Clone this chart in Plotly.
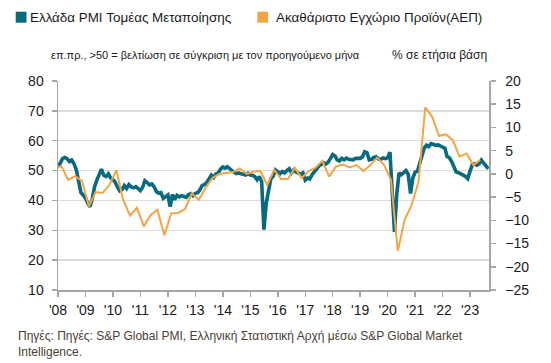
import plotly.graph_objects as go
import pandas as pd

# ---- data ----
years = list(range(2008, 2024))
year_labels = ["'%02d" % (y % 100) for y in years]

pmi = [
    51.7, 52.5, 54.0, 54.4, 54.0, 53.0, 53.5, 52.3, 50.2, 45.7, 42.6, 41.8,  # 2008
    40.8, 39.0, 37.9, 40.5, 44.6, 46.8, 48.5, 50.5, 48.4, 48.0, 48.9, 47.5,  # 2009
    47.0, 46.0, 44.5, 43.2, 43.6, 45.0, 44.0, 45.3, 44.5, 44.2, 44.6, 43.8,  # 2010
    43.3, 44.5, 46.6, 46.0, 45.2, 45.5, 44.6, 43.0, 42.4, 42.6, 40.7, 41.2,  # 2011
    41.8, 37.9, 42.0, 40.3, 41.7, 41.2, 41.6, 41.3, 41.0, 41.9, 42.3, 41.6,  # 2012
    42.4, 42.6, 43.5, 45.0, 45.3, 46.0, 47.5, 48.5, 47.7, 48.9, 49.2, 50.5,  # 2013
    51.2, 50.8, 51.3, 50.6, 50.2, 49.4, 49.0, 49.2, 48.9, 48.8, 48.5, 49.1,  # 2014
    48.5, 48.4, 48.0, 46.9, 48.0, 46.3, 30.2, 39.1, 43.3, 47.3, 48.1, 50.2,  # 2015
    49.6, 49.0, 49.7, 49.2, 50.0, 50.6, 49.2, 50.2, 49.5, 49.3, 48.8, 49.2,  # 2016
    46.8, 47.5, 47.2, 48.6, 49.8, 50.6, 51.5, 52.0, 52.6, 52.2, 52.8, 54.0,  # 2017
    55.4, 54.9, 53.6, 53.2, 54.1, 53.6, 54.2, 53.8, 53.8, 53.6, 54.1, 54.0,  # 2018
    54.1, 54.6, 56.3, 56.0, 53.6, 53.8, 54.4, 54.6, 53.9, 53.8, 54.2, 54.0,  # 2019
    54.3, 56.2, 42.5, 29.5, 42.0, 49.2, 48.6, 49.4, 50.0, 48.7, 42.3, 47.5,  # 2020
    49.5, 49.8, 52.0, 55.0, 57.5, 58.5, 58.0, 59.0, 58.6, 58.5, 58.6, 58.2,  # 2021
    57.8, 57.5, 54.7, 54.3, 53.0, 51.5, 49.5, 49.3, 49.0, 48.5, 48.0, 47.3,  # 2022
    49.8, 52.0, 52.3, 51.8, 52.2, 53.5, 52.5, 51.5, 50.6,                    # 2023
]
pmi_start = "2008-01-01"

gdp_quarters = ["2007Q4"] + ["%dQ%d" % (y, q) for y in range(2008, 2024) for q in range(1, 5)][:62]
gdp = [
    1.0,
    1.7, -1.3, -0.5, -1.5,      # 2008
    -7.0, -3.9, -4.1, -2.4,     # 2009
    0.8, -5.5, -9.0, -7.3,      # 2010
    -11.3, -8.9, -7.7, -13.2,   # 2011
    -8.5, -8.4, -7.6, -4.2,     # 2012
    -5.6, -3.0, -0.9, 0.0,      # 2013
    0.2, 0.4, 1.2, 0.0,         # 2014
    0.5, 0.6, -2.4, 0.9,        # 2015
    -1.1, -1.1, 1.3, -0.9,      # 2016
    0.6, 1.3, 2.8, -0.6,        # 2017
    1.6, 2.0, 1.4, 1.9,         # 2018
    0.6, 1.9, 3.5, 1.9,         # 2019
    -1.3, -16.6, -9.9, -6.7,    # 2020
    -1.7, 14.3, 12.3, 8.2,      # 2021
    8.5, 7.3, 3.7, 4.4,         # 2022
    1.9, 3.0,                   # 2023
]

legend_pmi = "Ελλάδα PMI Τομέας Μεταποίησης"
legend_gdp = "Ακαθάριστο Εγχώριο Προϊόν(ΑΕΠ)"
left_title = "επ.πρ., >50 = βελτίωση σε σύγκριση με τον προηγούμενο μήνα"
right_title = "% σε ετήσια βάση"
source = ("Πηγές: Πηγές: S&P Global PMI, Ελληνική Στατιστική Αρχή μέσω S&P Global Market<br>"
          "Intelligence.")

# ---- positions ----
pmi_x = pd.date_range(pmi_start, periods=len(pmi), freq="MS")


def q_mid(label):
    y, q = int(label[:4]), int(label[-1])
    return pd.Timestamp(year=y, month=3 * (q - 1) + 2, day=15)


gdp_x = [q_mid(q) for q in gdp_quarters]

TEAL = "#08697f"
ORANGE = "#f3a545"
FONT = "Liberation Sans, Arial, sans-serif"
AXIS = "#a6a6a6"
TXT = "#1a1a1a"

L, R, T, B = 58, 62, 81, 73
PW, PH = 551 - L - R, 363 - T - B


def px(x):
    return (x - L) / PW


def py(y):
    return (363 - B - y) / PH


fig = go.Figure()
fig.add_trace(go.Scatter(x=pmi_x, y=pmi, mode="lines", name=legend_pmi,
                         line=dict(color=TEAL, width=3.6), yaxis="y"))
fig.add_trace(go.Scatter(x=gdp_x, y=gdp, mode="lines", name=legend_gdp,
                         line=dict(color=ORANGE, width=2), yaxis="y2"))

fig.update_layout(
    width=551, height=363,
    margin=dict(l=L, r=R, t=T, b=B),
    paper_bgcolor="white", plot_bgcolor="white",
    showlegend=False,
    font=dict(family=FONT, color=TXT),
    xaxis=dict(
        type="date",
        range=["2008-01-01", "2023-09-10"],
        tickvals=[pd.Timestamp(year=y, month=1, day=1) for y in years],
        ticktext=year_labels,
        ticks="outside", ticklen=5, tickcolor=AXIS, tickwidth=1.5,
        ticklabelstandoff=2,
        showline=True, linecolor=AXIS, linewidth=1.5,
        showgrid=False, zeroline=False,
        tickfont=dict(size=14, color=TXT),
    ),
    yaxis=dict(
        range=[10, 80], dtick=10, tick0=10,
        ticks="outside", ticklen=5, tickcolor=AXIS, tickwidth=1.5,
        ticklabelstandoff=5,
        showline=True, linecolor=AXIS, linewidth=1.5,
        showgrid=True, gridcolor="#dcdcdc", gridwidth=1.5,
        zeroline=False,
        tickfont=dict(size=14, color=TXT),
    ),
    yaxis2=dict(
        overlaying="y", side="right",
        range=[-25, 20], dtick=5, tick0=-25,
        ticks="outside", ticklen=5, tickcolor=AXIS, tickwidth=1.5,
        ticklabelstandoff=7,
        showline=True, linecolor=AXIS, linewidth=1.5,
        showgrid=False, zeroline=False,
        tickfont=dict(size=14, color=TXT),
    ),
)

# legend (squares + labels)
fig.add_shape(type="rect", xref="paper", yref="paper",
              x0=px(15.7), x1=px(26.5), y0=py(22.7), y1=py(11.7),
              fillcolor=TEAL, line=dict(width=0))
fig.add_shape(type="rect", xref="paper", yref="paper",
              x0=px(257.3), x1=px(268), y0=py(22.7), y1=py(11.7),
              fillcolor=ORANGE, line=dict(width=0))
fig.add_annotation(text=legend_pmi, xref="paper", yref="paper",
                   x=px(27.5), y=py(17.5), xanchor="left", yanchor="middle",
                   showarrow=False, font=dict(size=13.4, color=TXT, family=FONT))
fig.add_annotation(text=legend_gdp, xref="paper", yref="paper",
                   x=px(274), y=py(17.5), xanchor="left", yanchor="middle",
                   showarrow=False, font=dict(size=13.4, color=TXT, family=FONT))
fig.add_annotation(text=left_title, xref="paper", yref="paper",
                   x=px(49), y=py(55), xanchor="left", yanchor="middle",
                   showarrow=False, font=dict(size=11, color=TXT, family=FONT))
fig.add_annotation(text=right_title, xref="paper", yref="paper",
                   x=px(489), y=py(55), xanchor="right", yanchor="middle",
                   showarrow=False, font=dict(size=12, color=TXT, family=FONT))
fig.add_annotation(text=source, xref="paper", yref="paper",
                   x=px(16), y=py(327), xanchor="left", yanchor="top",
                   align="left", showarrow=False,
                   font=dict(size=12, color="#4a4035", family=FONT))

fig.write_html("out.html",
               config={"displayModeBar": False, "staticPlot": True},
               post_script="document.body.style.margin='0';document.body.style.overflow='hidden';")
